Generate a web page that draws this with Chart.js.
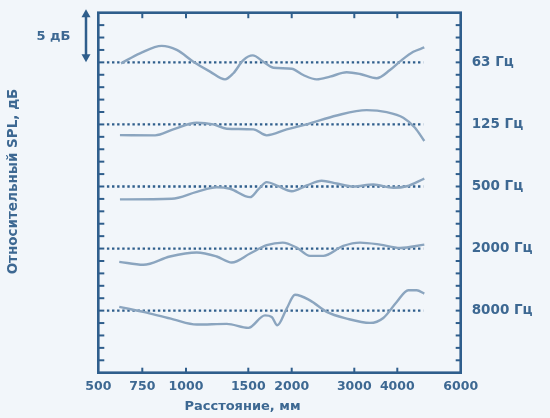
<!DOCTYPE html>
<html><head><meta charset="utf-8">
<script src="https://cdn.jsdelivr.net/npm/chart.js@4.4.1/dist/chart.umd.min.js"></script>
<style>html,body{margin:0;padding:0;background:#f2f6fa;}#wrap{width:550px;height:418px;position:relative;}</style>
</head><body><div id="wrap"><canvas id="c"></canvas></div>
<script>
// ---- data ----
const bandLabels = ['63 Гц', '125 Гц', '500 Гц', '2000 Гц', '8000 Гц'];
const bandOffsets = [20, 15, 10, 5, 0];
const xTickLabels = [500, 750, 1000, 1500, 2000, 3000, 4000, 6000];

const dist63 = [629, 737, 861, 947, 1059, 1193, 1313, 1380, 1460, 1551, 1673, 1788, 2000, 2185, 2399, 2612, 2878, 3133, 3521, 3830, 4139, 4505, 4852];
const dev63  = [-0.08, 0.72, 1.33, 1.0, 0.05, -0.75, -1.37, -0.88, 0.18, 0.56, 0.05, -0.43, -0.51, -1.02, -1.37, -1.15, -0.8, -0.94, -1.28, -0.62, 0.18, 0.85, 1.2];

const dist125 = [623, 823, 927, 1086, 1219, 1327, 1558, 1712, 1942, 2240, 2719, 3288, 3754, 4189, 4558, 4852];
const dev125  = [-0.86, -0.88, -0.4, 0.14, 0.0, -0.35, -0.4, -0.88, -0.4, 0.0, 0.72, 1.15, 0.99, 0.54, -0.27, -1.34];

const dist500 = [623, 918, 1086, 1246, 1353, 1520, 1615, 1712, 1846, 2000, 2240, 2479, 2719, 2984, 3442, 3907, 4297, 4852];
const dev500  = [-1.04, -0.99, -0.43, -0.06, -0.18, -0.86, -0.24, 0.35, 0.02, -0.38, 0.08, 0.46, 0.24, 0.0, 0.16, -0.1, 0.02, 0.64];

const dist2000 = [619, 756, 908, 1086, 1246, 1367, 1520, 1712, 1896, 2080, 2292, 2505, 2824, 3133, 3598, 4085, 4852];
const dev2000  = [-1.07, -1.31, -0.64, -0.32, -0.64, -1.12, -0.4, 0.27, 0.48, 0.08, -0.59, -0.59, 0.21, 0.48, 0.32, 0.05, 0.32];

const dist8000 = [619, 775, 927, 1086, 1327, 1500, 1692, 1770, 1834, 1942, 2053, 2292, 2559, 2878, 3365, 3675, 3986, 4347, 4612, 4852];
const dev8000  = [0.3, -0.16, -0.7, -1.12, -1.07, -1.39, -0.38, -0.51, -1.18, 0.16, 1.28, 0.83, -0.1, -0.64, -0.99, -0.59, 0.7, 1.64, 1.64, 1.37];

const refLineRange = [549, 4820];

// ---- axis configuration (non-uniform distance axis) ----
const xBreakPos = [0, 44, 87.7, 150, 193.4, 256, 299, 362.4];
function mmToPos(mm) {
  for (let i = 0; i < xTickLabels.length - 1; i++) {
    if (mm <= xTickLabels[i + 1] || i === xTickLabels.length - 2) {
      const t = (mm - xTickLabels[i]) / (xTickLabels[i + 1] - xTickLabels[i]);
      return xBreakPos[i] + t * (xBreakPos[i + 1] - xBreakPos[i]);
    }
  }
}

const AXIS = '#2f5e8c';
const TXT = '#3d6892';
const CURVE = '#8ba5bf';
const FONT = 'DejaVu Sans';

const series = [
  [dist63, dev63], [dist125, dev125], [dist500, dev500], [dist2000, dev2000], [dist8000, dev8000]
];

const datasets = [];
bandOffsets.forEach((off, i) => {
  datasets.push({
    label: 'ref ' + bandLabels[i],
    data: refLineRange.map(d => ({x: mmToPos(d), y: off})),
    borderColor: AXIS, borderWidth: 2.3, borderDash: [2.4, 2.7],
    pointRadius: 0, fill: false, order: 2
  });
});
series.forEach(([d, v], i) => {
  datasets.push({
    label: bandLabels[i],
    data: d.map((x, k) => ({x: mmToPos(x), y: v[k] + bandOffsets[i]})),
    borderColor: CURVE, borderWidth: 2.4, pointRadius: 0, fill: false,
    cubicInterpolationMode: 'monotone', order: 1
  });
});

const framePlugin = {
  id: 'frame',
  afterDatasetsDraw(chart) {
    const {ctx, chartArea: a, scales} = chart;
    ctx.save();
    ctx.strokeStyle = AXIS;
    ctx.lineCap = 'butt';
    ctx.lineWidth = 2;
    xBreakPos.slice(1, -1).forEach(p => {
      const px = scales.x.getPixelForValue(p);
      ctx.beginPath(); ctx.moveTo(px, a.bottom); ctx.lineTo(px, a.bottom - 5); ctx.stroke();
      ctx.beginPath(); ctx.moveTo(px, a.top); ctx.lineTo(px, a.top + 5.5); ctx.stroke();
    });
    for (let v = -4; v <= 23; v++) {
      const py = scales.y.getPixelForValue(v);
      ctx.beginPath(); ctx.moveTo(a.left, py); ctx.lineTo(a.left + 6, py); ctx.stroke();
      ctx.beginPath(); ctx.moveTo(a.right, py); ctx.lineTo(a.right - 5, py); ctx.stroke();
    }
    ctx.lineWidth = 2.6;
    ctx.strokeRect(a.left, a.top, a.right - a.left, a.bottom - a.top);
    ctx.restore();
  },
  afterDraw(chart) {
    const {ctx, scales} = chart;
    ctx.save();
    // scale arrow (5 dB)
    const ax = 86;
    const yb = scales.y.getPixelForValue(20);
    const yt = yb - 53;
    ctx.strokeStyle = AXIS; ctx.fillStyle = AXIS; ctx.lineWidth = 2.5;
    ctx.beginPath(); ctx.moveTo(ax, yt + 6); ctx.lineTo(ax, yb - 6); ctx.stroke();
    ctx.beginPath(); ctx.moveTo(ax, yt); ctx.lineTo(ax - 4.5, yt + 8); ctx.lineTo(ax + 4.5, yt + 8); ctx.closePath(); ctx.fill();
    ctx.beginPath(); ctx.moveTo(ax, yb); ctx.lineTo(ax - 4.5, yb - 8); ctx.lineTo(ax + 4.5, yb - 8); ctx.closePath(); ctx.fill();
    ctx.fillStyle = TXT;
    ctx.font = 'bold 13px "' + FONT + '"';
    ctx.textAlign = 'left'; ctx.textBaseline = 'middle';
    ctx.fillText('5 дБ', 36.5, 37);
    // x title
    ctx.textAlign = 'center';
    ctx.fillText('Расстояние, мм', 242.5, 406.5);
    // y title
    ctx.font = 'bold 13.5px "' + FONT + '"';
    ctx.translate(13.5, 181.5);
    ctx.rotate(-Math.PI / 2);
    ctx.fillText('Относительный SPL, дБ', 0, 0);
    ctx.restore();
  }
};

new Chart(document.getElementById('c'), {
  type: 'line',
  data: {datasets},
  options: {
    responsive: true, maintainAspectRatio: false, animation: false,
    layout: {padding: {left: 98.3, top: 12.7, right: 0, bottom: 0}},
    plugins: {legend: {display: false}, tooltip: {enabled: false}},
    scales: {
      x: {
        type: 'linear', min: 0, max: xBreakPos[xBreakPos.length - 1],
        afterBuildTicks: s => { s.ticks = xBreakPos.map(v => ({value: v})); },
        afterFit: s => { s.height = 45.3; s.paddingLeft = 0; s.paddingRight = 0; },
        grid: {display: false, drawTicks: false}, border: {display: false},
        ticks: {autoSkip: false, maxRotation: 0, padding: 7, color: TXT,
          font: {family: FONT, size: 12.5, weight: 'bold'},
          callback: (v, i) => xTickLabels[i]}
      },
      y: {display: false, min: -5, max: 24},
      y2: {
        position: 'right', min: -5, max: 24,
        afterBuildTicks: s => { s.ticks = bandOffsets.map(v => ({value: v})); },
        afterFit: s => { s.width = 89.3; s.paddingTop = 0; s.paddingBottom = 0; },
        grid: {display: false, drawTicks: false}, border: {display: false},
        ticks: {padding: 11, color: TXT, font: {family: FONT, size: 13.5, weight: 'bold'},
          callback: v => bandLabels[bandOffsets.indexOf(v)]}
      }
    }
  },
  plugins: [framePlugin]
});
</script></body></html>
